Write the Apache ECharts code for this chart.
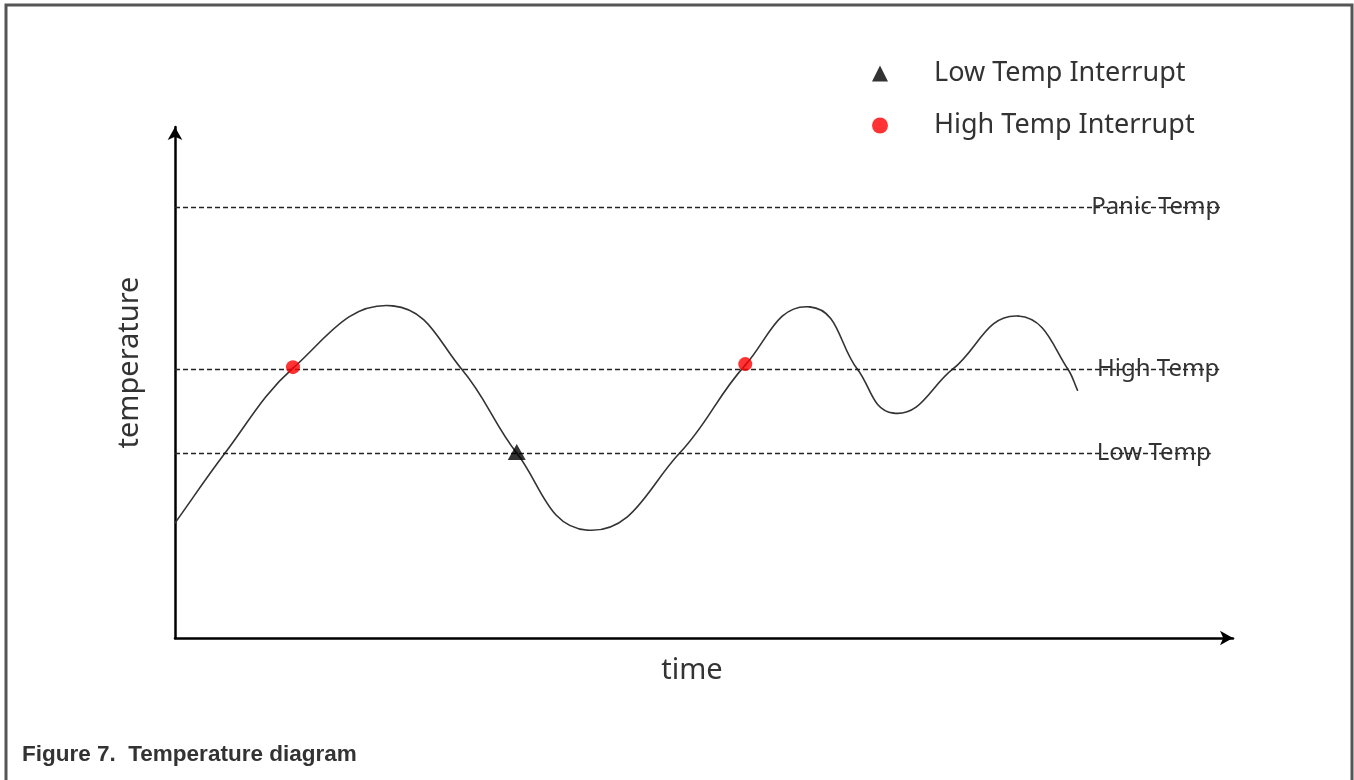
<!DOCTYPE html>
<html>
<head>
<meta charset="utf-8">
<script src="https://cdn.jsdelivr.net/npm/echarts@6/dist/echarts.min.js"></script>
<style>
  html, body { margin: 0; padding: 0; background: #fff; }
  #chart { width: 1354px; height: 780px; }
</style>
</head>
<body>
<div id="chart"></div>
<script>
// ---- data ----
const timeVals = [0, 4.73, 11.15, 20.6, 27.1, 32.3, 39.0, 47.7, 53.9, 60.0, 64.5, 67.9, 73.5, 79.7, 84.4, 85.3];
const tempVals = [22.5, 36.2, 52.8, 65.0, 52.6, 36.2, 21.1, 36.2, 53.4, 64.8, 52.6, 44.0, 52.6, 63.0, 52.6, 48.5];

const thresholdNames = ['Panic Temp', 'High Temp', 'Low Temp'];
const thresholdVals = [84.3, 52.6, 36.2];
const thresholdEnds = [98.8, 98.7, 97.9];

const highInterruptTime = [11.15, 53.9];
const highInterruptTemp = [53.0, 53.6];
const lowInterruptTime = [32.3];
const lowInterruptTemp = [36.4];

const seriesNames = ['Low Temp Interrupt', 'High Temp Interrupt'];
const axisNames = ['time', 'temperature'];
const caption = 'Figure 7.  Temperature diagram';

// ---- chart ----
const chart = echarts.init(document.getElementById('chart'));
const lineData = timeVals.map((t, i) => [t, tempVals[i]]);
const markData = thresholdNames.map((n, i) => [
  { name: n, coord: [0, thresholdVals[i]] },
  { coord: [thresholdEnds[i], thresholdVals[i]] }
]);

function unit(dx, dy) {
  const l = Math.sqrt(dx * dx + dy * dy) || 1;
  return [dx / l, dy / l];
}
function smoothCurve(pts, k) {
  const n = pts.length;
  const tang = pts.map((p, i) => {
    if (i === 0) return unit(pts[1][0] - p[0], pts[1][1] - p[1]);
    if (i === n - 1) return unit(p[0] - pts[i - 1][0], p[1] - pts[i - 1][1]);
    const a = unit(p[0] - pts[i - 1][0], p[1] - pts[i - 1][1]);
    const b = unit(pts[i + 1][0] - p[0], pts[i + 1][1] - p[1]);
    return unit(a[0] + b[0], a[1] + b[1]);
  });
  const segs = [];
  for (let i = 0; i < n - 1; i++) {
    const p = pts[i], q = pts[i + 1];
    const len = Math.sqrt((q[0] - p[0]) ** 2 + (q[1] - p[1]) ** 2) * k;
    segs.push({
      type: 'bezierCurve',
      shape: {
        x1: p[0], y1: p[1], x2: q[0], y2: q[1],
        cpx1: p[0] + tang[i][0] * len, cpy1: p[1] + tang[i][1] * len,
        cpx2: q[0] - tang[i + 1][0] * len, cpy2: q[1] - tang[i + 1][1] * len
      },
      style: { stroke: '#333', lineWidth: 1.6, fill: null, lineCap: 'round' }
    });
  }
  return segs;
}

const option = {
  backgroundColor: '#fff',
  animation: false,
  title: {
    text: caption,
    left: 17,
    top: 738,
    textStyle: { fontFamily: 'Liberation Sans, Arial, sans-serif', fontWeight: 'bold', fontSize: 22.5, color: '#333' }
  },
  graphic: [{
    type: 'rect',
    shape: { x: 6, y: 5, width: 1346, height: 900 },
    style: { fill: 'none', stroke: '#555', lineWidth: 3 },
    silent: true
  }],
  legend: {
    orient: 'vertical',
    left: 867,
    top: 55,
    itemWidth: 16,
    itemHeight: 16,
    itemGap: 25,
    data: [
      { name: seriesNames[0], icon: 'triangle' },
      { name: seriesNames[1], icon: 'circle' }
    ],
    textStyle: { fontFamily: 'Noto Sans, sans-serif', fontSize: 27, color: '#333', padding: [0, 0, 0, 41] }
  },
  grid: { left: 175, right: 121, top: 127, bottom: 142 },
  xAxis: {
    type: 'value', min: 0, max: 100,
    name: axisNames[0], nameLocation: 'middle', nameGap: 18,
    nameTextStyle: { fontFamily: 'Noto Sans, sans-serif', fontSize: 29, color: '#333', verticalAlign: 'top', padding: [0, 24, 0, 0] },
    axisLine: { lineStyle: { color: '#000', width: 2.5 }, symbol: ['none', 'arrow'], symbolSize: [11, 13] },
    axisTick: { show: false }, axisLabel: { show: false }, splitLine: { show: false }
  },
  yAxis: {
    type: 'value', min: 0, max: 100,
    name: axisNames[1], nameLocation: 'middle', nameGap: 31,
    nameTextStyle: { fontFamily: 'Noto Sans, sans-serif', fontSize: 29, color: '#333', padding: [0, 0, 0, 40] },
    axisLine: { lineStyle: { color: '#000', width: 2.5 }, symbol: ['none', 'arrow'], symbolSize: [11, 13] },
    axisTick: { show: false }, axisLabel: { show: false }, splitLine: { show: false }
  },
  series: [
    {
      type: 'custom',
      name: 'temperature curve',
      data: lineData,
      silent: true,
      z: 3,
      renderItem: function (params, api) {
        if (params.dataIndex !== 0) return null;
        const pts = lineData.map(d => api.coord(d));
        return { type: 'group', children: smoothCurve(pts, 0.38) };
      }
    },
    {
      type: 'line',
      name: 'thresholds',
      data: [],
      markLine: {
        silent: true,
        symbol: ['none', 'none'],
        lineStyle: { color: '#222', width: 1.3, type: [5, 3] },
        label: {
          show: true, position: 'insideEnd', distance: 0,
          formatter: '{b}',
          fontFamily: 'Noto Sans, sans-serif', fontSize: 24, color: '#333'
        },
        data: markData
      }
    },
    {
      type: 'scatter',
      name: seriesNames[0],
      symbol: 'triangle',
      symbolSize: [18, 16],
      itemStyle: { color: '#000' },
      data: lowInterruptTime.map((t, i) => [t, lowInterruptTemp[i]]),
      z: 5
    },
    {
      type: 'scatter',
      name: seriesNames[1],
      symbol: 'circle',
      symbolSize: 14,
      itemStyle: { color: '#ff0000' },
      data: highInterruptTime.map((t, i) => [t, highInterruptTemp[i]]),
      z: 5
    }
  ]
};
chart.setOption(option);
</script>
</body>
</html>
